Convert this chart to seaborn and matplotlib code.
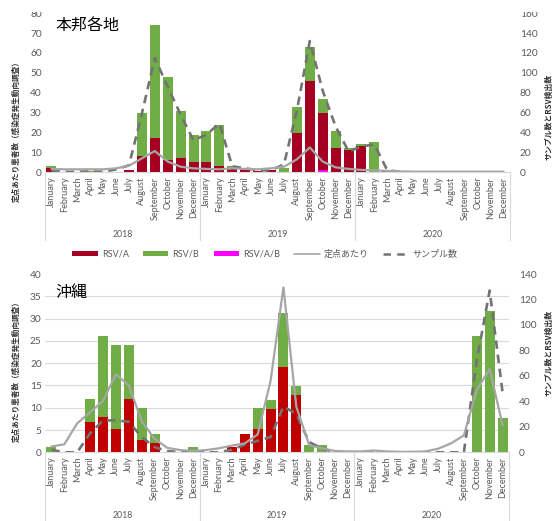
import numpy as np
import pandas as pd
import matplotlib
matplotlib.use("Agg")
import matplotlib.pyplot as plt
import seaborn as sns
from matplotlib.patches import Patch, Rectangle
from matplotlib.lines import Line2D

# ---- data -------------------------------------------------------------
months = ["January", "February", "March", "April", "May", "June", "July",
          "August", "September", "October", "November", "December"]
years = ["2018", "2019", "2020"]

# 本邦各地: RSV detections / sample counts (right axis), per-sentinel patients (left axis)
mainland_rsv_a = [4, 0, 0, 0, 0, 0, 2, 16, 34, 12, 14, 10,
                  10, 6, 4, 3, 1, 2, 0, 40, 92, 58, 24, 22,
                  26, 0, 1, 0, 0, 0, 0, 0, 0, 0, 0, 0]
mainland_rsv_b = [2, 0, 0, 1, 0, 0, 0, 44, 114, 84, 48, 28,
                  32, 42, 2, 1, 0, 0, 4, 26, 34, 14, 18, 2,
                  2, 30, 1, 0, 0, 0, 0, 0, 0, 0, 0, 0]
mainland_rsv_ab = [0, 0, 0, 0, 0, 0, 0, 0, 0, 0, 0, 0,
                   0, 0, 0, 0, 0, 0, 0, 0, 0, 2, 0, 0,
                   0, 0, 0, 0, 0, 0, 0, 0, 0, 0, 0, 0]
mainland_samples = [2, 0.5, 0.5, 1, 0.5, 3, 7, 59, 115, 86, 58, 32,
                    38, 49, 6, 4, 2, 2, 8, 62, 132, 82, 46, 21,
                    26, 28, 2, 0.5, 0, 0, 0, 0, 0, 0, 0, 0]
mainland_per_site = [1.7, 1.5, 1.5, 1.5, 1.5, 2.0, 3.3, 7.0, 10.7, 5.4, 2.8, 2.0,
                     1.7, 1.5, 2.0, 1.7, 1.5, 2.0, 2.8, 6.5, 12.5, 5.4, 2.5, 1.7,
                     1.2, 1.0, 0.7, 0.4, 0.3, 0.3, 0.3, 0.3, 0.3, 0.3, 0.3, 0.3]

# 沖縄
okinawa_rsv_a = [0, 0, 0, 24, 28, 18, 42, 10, 7, 0, 0, 0,
                 0, 0, 4, 14, 18, 34, 67, 45, 0, 0, 0, 0,
                 0, 0, 0, 0, 0, 0, 0, 0, 0, 0, 0, 0]
okinawa_rsv_b = [4, 0, 0, 18, 63, 66, 42, 25, 7, 0, 0, 4,
                 0, 0, 0, 0, 17, 7, 42, 7, 6, 6, 0, 0,
                 0, 0, 0, 0, 0, 0, 0, 0, 0, 91, 111, 27]
okinawa_rsv_ab = [0] * 36
okinawa_samples = [2, 0, 0, 15, 25, 25, 24, 12, 4, 1, 0, 0.5,
                   0, 0, 2, 6, 9, 12, 36, 30, 8, 3, 0, 0,
                   0, 0, 0, 0, 0, 0, 0, 0, 0, 72, 127, 47]
okinawa_per_site = [1.3, 1.8, 6.5, 9.0, 11.5, 17.5, 15.0, 7.0, 3.0, 1.0, 0.5, 0.3,
                    0.5, 0.9, 1.5, 2.0, 4.0, 16.0, 37.0, 10.2, 1.6, 0.9, 0.3, 0.2,
                    0.2, 0.4, 0.2, 0.1, 0.1, 0.2, 0.8, 2.0, 3.8, 14.0, 18.7, 6.1]

legend_labels = ["RSV/A", "RSV/B", "RSV/A/B", "定点あたり", "サンプル数"]
left_label = "定点あたり患者数（感染症発生動向調査）"
right_label = "サンプル数とRSV検出数"

# ---- style ------------------------------------------------------------
sns.set_style("white")
plt.rcParams["font.family"] = ["Lato", "Noto Sans CJK JP"]

GREEN = "#70AD47"
MAGENTA = "#FF00FF"
RED_TOP = "#A50021"
RED_BOTTOM = "#C00000"
SOLID = "#A6A6A6"
DASH = "#737373"
GRID = "#D9D9D9"
TEXT = "#595959"
DASH_STYLE = (0, (3.2, 2.2))

W, H = 554, 521
fig = plt.figure(figsize=(W / 100, H / 100), dpi=100)


def axes_px(left, top, right, bottom):
    return fig.add_axes([left / W, 1 - bottom / H, (right - left) / W, (bottom - top) / H])


def draw_panel(ax, rsv_a, rsv_b, rsv_ab, samples, per_site, red,
               left_max, left_step, right_max, right_step, year_off, sep_len):
    axr = ax.twinx()
    n = len(rsv_a)
    x = np.arange(n)
    a = np.asarray(rsv_a, float)
    b = np.asarray(rsv_b, float)
    ab = np.asarray(rsv_ab, float)
    df = pd.DataFrame({"month": x, "ab": ab, "a_top": ab + a, "total": ab + a + b})

    # stacked bars: A/B at the base, then A, then B on top
    common = dict(data=df, x="month", ax=axr, saturation=1, width=0.78,
                  errorbar=None, linewidth=0)
    sns.barplot(y="total", color=GREEN, **common)
    sns.barplot(y="a_top", color=red, **common)
    sns.barplot(y="ab", color=MAGENTA, **common)

    sns.lineplot(x=x, y=np.asarray(samples, float), ax=axr, color=DASH,
                 linewidth=1.9, linestyle=DASH_STYLE, zorder=5)
    sns.lineplot(x=x, y=np.asarray(per_site, float), ax=ax, color=SOLID,
                 linewidth=1.6, zorder=6)

    # left axis sits on top so its line is drawn over the bars
    ax.set_zorder(axr.get_zorder() + 1)
    ax.patch.set_visible(False)

    ax.set_ylim(0, left_max)
    left_ticks = np.arange(0, left_max + 1, left_step)
    ax.set_yticks(left_ticks)
    axr.set_ylim(0, right_max)
    axr.set_yticks(np.arange(0, right_max + 1, right_step))

    # horizontal grid follows the left-axis ticks, drawn behind the bars
    axr.set_yticks(left_ticks * right_max / left_max, minor=True)
    axr.yaxis.grid(True, which="minor", color=GRID, linewidth=0.8)
    axr.yaxis.grid(False, which="major")
    axr.set_axisbelow(True)
    ax.grid(False)

    for a_ in (ax, axr):
        for s in a_.spines.values():
            s.set_visible(False)
        a_.set_xlabel("")
        a_.set_ylabel("")
    ax.spines["bottom"].set_visible(True)
    ax.spines["bottom"].set_color(GRID)
    ax.spines["bottom"].set_linewidth(0.8)

    ax.tick_params(axis="y", length=0, labelsize=7.3, labelcolor=TEXT, pad=2.4)
    axr.tick_params(axis="y", which="both", length=0, labelsize=7.3,
                    labelcolor=TEXT, pad=7)

    ax.set_xticks(x)
    ax.set_xticklabels(months * 3, rotation=90, fontsize=6.5, color=TEXT)
    ax.tick_params(axis="x", length=0, pad=3.2)

    # year row and group separators below the month labels
    h_px = ax.get_position().height * H
    trans = ax.get_xaxis_transform()
    for i, yr in enumerate(years):
        ax.text(12 * i + 5.5, -year_off / h_px, yr, transform=trans,
                ha="center", va="center", fontsize=6.3, color=TEXT)
    for xb in (-0.5, 11.5, 23.5, n - 0.5):
        ax.plot([xb, xb], [0, -sep_len / h_px], transform=trans,
                color=GRID, linewidth=0.8, clip_on=False)
    ax.set_xlim(-0.5, n - 0.5)
    return axr


ax_top = axes_px(45, 13.2, 510, 172.3)
draw_panel(ax_top, mainland_rsv_a, mainland_rsv_b, mainland_rsv_ab,
           mainland_samples, mainland_per_site, RED_TOP,
           80, 10, 160, 20, year_off=62, sep_len=68)

ax_bot = axes_px(45, 274, 509, 452.3)
draw_panel(ax_bot, okinawa_rsv_a, okinawa_rsv_b, okinawa_rsv_ab,
           okinawa_samples, okinawa_per_site, RED_BOTTOM,
           40, 5, 140, 20, year_off=63, sep_len=70)

# panel titles
fig.text(55 / W, 1 - 25 / H, "本邦各地", fontsize=11.5, ha="left", va="center",
         color="black", family=["Noto Sans CJK JP"])
fig.text(55 / W, 1 - 292 / H, "沖縄", fontsize=11.5, ha="left", va="center",
         color="black", family=["Noto Sans CJK JP"])

# axis titles
for yc in (130, 370):
    fig.text(16 / W, 1 - yc / H, left_label, rotation=90, ha="center", va="center",
             fontsize=5.5, fontweight="bold", color="#333333",
             family=["Noto Sans CJK JP", "DejaVu Sans"])
for yc in (117, 353):
    fig.text(549 / W, 1 - yc / H, right_label, rotation=90, ha="center", va="center",
             fontsize=5.7, fontweight="bold", color="#333333",
             family=["Noto Sans CJK JP", "DejaVu Sans"])

# shared legend between the panels
handles = [Patch(facecolor=RED_TOP, edgecolor="none"),
           Patch(facecolor=GREEN, edgecolor="none"),
           Patch(facecolor=MAGENTA, edgecolor="none"),
           Line2D([], [], color=SOLID, linewidth=1.2),
           Line2D([], [], color=DASH, linewidth=1.8, linestyle=(0, (3, 2.5)))]
fig.legend(handles, legend_labels, loc="center", bbox_to_anchor=(265 / W, 1 - 254 / H),
           ncol=5, frameon=False, fontsize=6.5, handlelength=2.8, handleheight=0.6,
           handletextpad=0.45, columnspacing=1.6, labelcolor=TEXT)

# the top edge of the canvas is blank
fig.add_artist(Rectangle((0, 1 - 12.3 / H), 1, 12.3 / H, transform=fig.transFigure,
                         facecolor="white", edgecolor="none", zorder=10))

fig.savefig("out.png", dpi=100, facecolor="white")
